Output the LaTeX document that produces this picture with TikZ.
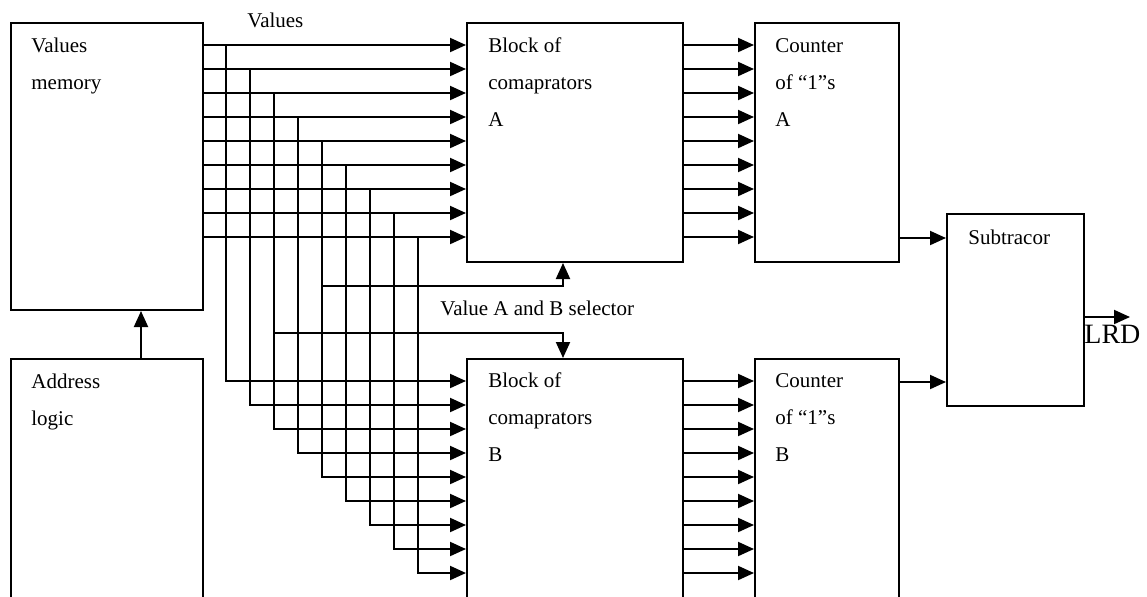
\documentclass[tikz,border=0pt]{standalone}
\usepackage{fontspec}
\setmainfont{Liberation Serif}
\usetikzlibrary{arrows.meta}
\begin{document}
\begin{tikzpicture}[x=0.5pt,y=-0.5pt,
  box/.style={draw,line width=1pt,inner sep=0pt,anchor=north west},
  lbl/.style={anchor=base west,inner sep=0pt,font=\fontsize{10.5}{12}\selectfont},
  wire/.style={line width=1pt},
  arr/.style={wire,-{Triangle[length=8pt,width=7pt]}}]
\clip (0,0) rectangle (1147,596);
\fill[white] (0,0) rectangle (1147,596);

% blocks
\node[box,minimum width=96pt,minimum height=143.5pt] (mem)  at (10,22)  {};
\node[box,minimum width=96pt,minimum height=135pt]   (addr) at (10,358) {};
\node[box,minimum width=108pt,minimum height=119.5pt] (cmpA) at (466,22) {};
\node[box,minimum width=108pt,minimum height=135pt]   (cmpB) at (466,358) {};
\node[box,minimum width=72pt,minimum height=119.5pt] (cntA) at (754,22) {};
\node[box,minimum width=72pt,minimum height=135pt]   (cntB) at (754,358) {};
\node[box,minimum width=68.5pt,minimum height=96pt]  (sub)  at (946,213) {};

% block texts
\node[lbl] at (31,52) {Values};
\node[lbl] at (31,89) {memory};
\node[lbl] at (31,388) {Address};
\node[lbl] at (31,425) {logic};
\node[lbl] at (488,52) {Block of};
\node[lbl] at (488,89) {comaprators};
\node[lbl] at (488,126) {A};
\node[lbl] at (488,387) {Block of};
\node[lbl] at (488,424) {comaprators};
\node[lbl] at (488,461) {B};
\node[lbl] at (775,52) {Counter};
\node[lbl] at (775,89) {of “1”s};
\node[lbl] at (775,126) {A};
\node[lbl] at (775,387) {Counter};
\node[lbl] at (775,424) {of “1”s};
\node[lbl] at (775,461) {B};
\node[lbl] at (968,244) {Subtracor};
\node[lbl] at (247,27) {Values};
\node[lbl] at (440,315) {Value A and B selector};

% value buses, comparator outputs
\foreach \i in {0,...,8}{
  \pgfmathsetmacro\ya{45+24*\i}
  \pgfmathsetmacro\yb{381+24*\i}
  \pgfmathsetmacro\xv{226+24*\i}
  \draw[arr] (mem.east |- 0,\ya) -- (cmpA.west |- 0,\ya);
  \draw[arr] (\xv,\ya) |- (cmpB.west |- 0,\yb);
  \draw[arr] (cmpA.east |- 0,\ya) -- (cntA.west |- 0,\ya);
  \draw[arr] (cmpB.east |- 0,\yb) -- (cntB.west |- 0,\yb);
}

% selector lines
\draw[arr] (322,286) -| (cmpA.south -| 563,0);
\draw[arr] (274,333) -| (cmpB.north -| 563,0);

% address logic to memory
\draw[arr] (addr.north -| 141,0) -- (mem.south -| 141,0);

% counters to subtractor, output
\draw[arr] (cntA.east |- 0,238) -- (sub.west |- 0,238);
\draw[arr] (cntB.east |- 0,382) -- (sub.west |- 0,382);
\coordinate (out) at (1130,317);
\draw[arr] (sub.east |- out) -- (out);
\node[anchor=base west,inner sep=0pt,font=\fontsize{14}{16}\selectfont] at (1084,343) {LRD};
\end{tikzpicture}
\end{document}
